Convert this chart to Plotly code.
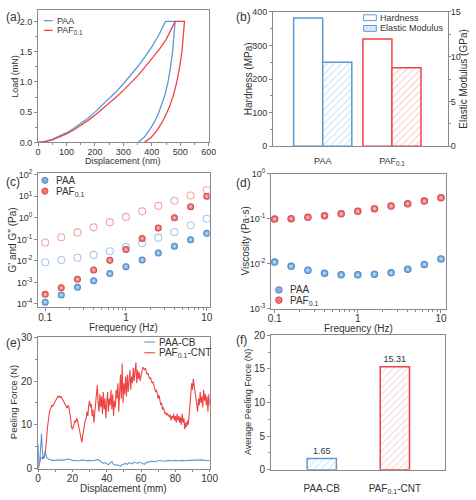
import plotly.graph_objects as go

# ---------------- data ----------------
# (a) nanoindentation load-displacement
paa_disp = [0, 25, 50, 75, 100, 125, 150, 175, 200, 225, 250, 275, 300, 325, 350, 375, 400, 425, 448,
            482, 478, 473, 466, 457, 446, 434, 422, 408, 393, 374, 351]
paa_load = [0, 0.015, 0.05, 0.10, 0.16, 0.23, 0.31, 0.40, 0.50, 0.61, 0.72, 0.84, 0.97, 1.11, 1.25, 1.41, 1.58, 1.78, 2.0,
            2.0, 1.75, 1.5, 1.25, 1.0, 0.78, 0.60, 0.46, 0.33, 0.21, 0.09, 0]
paf_disp = [0, 25, 50, 75, 100, 125, 150, 175, 200, 225, 250, 275, 300, 325, 350, 375, 400, 425, 450, 475, 482,
            515, 511, 506, 498, 488, 476, 463, 450, 436, 420, 399, 374]
paf_load = [0, 0.012, 0.04, 0.085, 0.14, 0.205, 0.28, 0.36, 0.45, 0.545, 0.645, 0.75, 0.86, 0.98, 1.10, 1.24, 1.38, 1.53, 1.70, 1.92, 2.0,
            2.0, 1.75, 1.5, 1.25, 1.0, 0.78, 0.60, 0.46, 0.33, 0.21, 0.09, 0]

# (b) hardness / elastic modulus
b_categories = ["PAA", "PAF<sub>0.1</sub>"]
hardness_mpa = [382, 319]
modulus_gpa = [9.37, 8.76]

# (c)/(d) frequency sweep
freq_hz = [0.1, 0.158, 0.251, 0.398, 0.631, 1.0, 1.585, 2.512, 3.981, 6.31, 10.0]
paa_g_storage = [1.2e-4, 2.6e-4, 5.9e-4, 1.2e-3, 2.6e-3, 5.4e-3, 1.1e-2, 2.3e-2, 4.8e-2, 9.6e-2, 0.19]
paf_g_storage = [2.8e-4, 5.6e-4, 1.4e-3, 3.8e-3, 1.07e-2, 3.4e-2, 0.11, 0.34, 1.0, 3.3, 10.0]
paa_g_loss = [8.7e-3, 1.1e-2, 1.4e-2, 1.9e-2, 2.8e-2, 4.5e-2, 6.7e-2, 0.12, 0.22, 0.45, 0.9]
paf_g_loss = [0.072, 0.126, 0.21, 0.36, 0.63, 1.1, 2.0, 3.6, 6.2, 10.8, 19.0]
paa_viscosity = [0.0109, 0.0088, 0.0072, 0.0062, 0.0057, 0.0057, 0.0059, 0.0063, 0.0076, 0.0097, 0.0128]
paf_viscosity = [0.098, 0.100, 0.107, 0.116, 0.128, 0.146, 0.167, 0.19, 0.215, 0.245, 0.29]

# (e) peeling curves
paa_cb_disp = [0, 0.5, 1, 1.5, 2, 2.5, 3, 3.5, 4, 4.5, 5, 6, 7, 8, 10, 12, 14, 16, 18, 20, 22, 24, 26, 28, 30,
               32, 34, 35, 36, 37, 38, 39, 40, 41, 42, 43, 44, 45, 46, 47, 48, 49, 50, 51, 52, 53, 54, 55, 56,
               57, 58, 59, 60, 61, 62, 63, 64, 66, 68, 70, 72, 74, 76, 78, 80, 82, 84, 86, 88, 90, 92, 94, 96, 98, 100]
paa_cb_force = [5.5, 0.5, 1.5, 5.0, 8.0, 4.0, 2.2, 2.5, 4.0, 3.5, 2.6, 2.2, 2.0, 1.9, 1.9, 2.0, 1.9, 2.0, 2.2, 1.9, 1.9, 1.8, 2.0, 1.8, 1.9,
                1.8, 2.0, 2.1, 1.8, 1.5, 1.2, 1.4, 1.1, 0.9, 1.3, 1.6, 1.0, 0.8, 0.9, 0.7, 0.6, 1.0, 1.0, 1.2, 1.0, 1.4, 1.3, 1.1, 1.5,
                1.4, 1.2, 1.5, 1.4, 1.2, 1.0, 1.4, 1.5, 1.7, 1.6, 1.8, 1.8, 1.7, 1.9, 1.8, 1.9, 1.8, 1.9, 1.8, 1.9, 1.9, 2.0, 1.9, 2.0, 1.8, 1.9]
paf_cnt_step_mm = 0.5
paf_cnt_force = [
    0, 1, 2, 2.5, 2.5, 2.3, 2.8, 2.5, 3, 4.5,
    7, 9.5, 11.5, 12.5, 13.5, 13.8, 14.5, 14.2, 14.6, 15,
    15.3, 15.8, 16.2, 16.5, 16.2, 16.6, 16.3, 16.4, 16, 15.6,
    15.3, 15, 14.6, 14.2, 13.8, 14.5, 14, 12.5, 11.5, 9.5,
    9, 9.5, 10.5, 11, 10.5, 11.5, 11, 10, 9, 8,
    6.5, 6, 7.5, 9.5, 10, 11, 11.5, 13, 12, 14.5,
    15.5, 14, 14.8, 12, 13.5, 10.5, 13, 15.5, 16.5, 19,
    15, 13, 17, 14, 16.5, 12.5, 17.5, 13.5, 16, 11.5,
    15, 17.5, 13, 16, 14.5, 18, 13.5, 17, 12, 15.5,
    14, 18, 16, 19.5, 13, 17.5, 21.5, 16, 24, 15,
    19.5, 17, 21, 16.5, 21.5, 17.5, 20, 22.5, 18, 21,
    19.5, 23, 20, 22, 24.2, 19.5, 22.5, 20.5, 22, 20,
    21.5, 22.5, 23.2, 22.8, 22.5, 23, 22, 21.5, 21.8, 21,
    20.5, 20.8, 20, 19.5, 19.8, 19, 18.5, 17.5, 18, 17,
    16, 16.8, 15.5, 14.5, 15, 13.5, 14, 13, 12.5, 12.8,
    12.2, 12.5, 12, 11.8, 12.3, 11, 12, 11.5, 12.5, 11,
    12, 10.5, 12.5, 11, 12, 10.5, 11.8, 10, 12.5, 10.5,
    11.5, 9, 10.5, 9.5, 11, 10, 12, 14, 17, 19.5,
    18, 20.5, 19, 17.5, 16, 15, 13, 16, 14.5, 17.5,
    15, 16.5, 14, 18, 15.5, 17, 14.5, 16.5, 13, 17,
    14.5]
paf_cnt_disp = [round(i * paf_cnt_step_mm, 1) for i in range(len(paf_cnt_force))]

# (f) average peeling force
f_categories = ["PAA-CB", "PAF<sub>0.1</sub>-CNT"]
avg_peel_force = [1.65, 15.31]

# ---------------- style ----------------
W, H = 476, 500
FONT = "Liberation Sans, Arial, sans-serif"
TXT = "#333333"
GRAY = "#8a8a8a"
BLUE = "#5b9bd5"
RED = "#ee4444"
LBLUE = "#a9c9ea"
LRED = "#f4a5a5"
SPH_BLUE_EDGE, SPH_BLUE_CEN = "#3c7fc6", "#d6e8fa"
SPH_RED_EDGE, SPH_RED_CEN = "#d93636", "#fbd0d0"


def px(x):
    return x / W


def py(y):
    return 1 - y / H


fig = go.Figure()

# (a)
fig.add_trace(go.Scatter(x=paa_disp, y=paa_load, mode="lines", line=dict(color=BLUE, width=1.3),
                         xaxis="x", yaxis="y", showlegend=False))
fig.add_trace(go.Scatter(x=paf_disp, y=paf_load, mode="lines", line=dict(color=RED, width=1.3),
                         xaxis="x", yaxis="y", showlegend=False))

# (b)
b_edge = [BLUE, RED]
b_fg = [LBLUE, LRED]
for i in range(len(b_categories)):
    fig.add_trace(go.Bar(x=[i], y=[hardness_mpa[i]], width=0.42, offset=-0.42,
                         marker=dict(color="white", line=dict(color=b_edge[i], width=1.5)),
                         xaxis="x2", yaxis="y2", showlegend=False))
    fig.add_trace(go.Bar(x=[i], y=[modulus_gpa[i]], width=0.42, offset=0,
                         marker=dict(color="white", line=dict(color=b_edge[i], width=1.5),
                                     pattern=dict(shape="/", fgcolor=b_fg[i], bgcolor="white", size=5, solidity=0.25)),
                         xaxis="x2", yaxis="y3", showlegend=False))

# (c)
fig.add_trace(go.Scatter(x=freq_hz, y=paa_g_loss, mode="markers",
                         marker=dict(symbol="circle-open", size=7, color=LBLUE, line=dict(width=1.1)),
                         xaxis="x3", yaxis="y4", showlegend=False))
fig.add_trace(go.Scatter(x=freq_hz, y=paf_g_loss, mode="markers",
                         marker=dict(symbol="circle-open", size=7, color=LRED, line=dict(width=1.1)),
                         xaxis="x3", yaxis="y4", showlegend=False))
fig.add_trace(go.Scatter(x=freq_hz, y=paa_g_storage, mode="markers",
                         marker=dict(size=7, color=SPH_BLUE_EDGE, line=dict(width=0),
                                     gradient=dict(type="radial", color=SPH_BLUE_CEN)),
                         xaxis="x3", yaxis="y4", showlegend=False))
fig.add_trace(go.Scatter(x=freq_hz, y=paf_g_storage, mode="markers",
                         marker=dict(size=7, color=SPH_RED_EDGE, line=dict(width=0),
                                     gradient=dict(type="radial", color=SPH_RED_CEN)),
                         xaxis="x3", yaxis="y4", showlegend=False))

# (d)
fig.add_trace(go.Scatter(x=freq_hz, y=paa_viscosity, mode="markers",
                         marker=dict(size=7.5, color=SPH_BLUE_EDGE, line=dict(width=0),
                                     gradient=dict(type="radial", color=SPH_BLUE_CEN)),
                         xaxis="x4", yaxis="y5", showlegend=False))
fig.add_trace(go.Scatter(x=freq_hz, y=paf_viscosity, mode="markers",
                         marker=dict(size=7.5, color=SPH_RED_EDGE, line=dict(width=0),
                                     gradient=dict(type="radial", color=SPH_RED_CEN)),
                         xaxis="x4", yaxis="y5", showlegend=False))

# (e)
fig.add_trace(go.Scatter(x=paf_cnt_disp, y=paf_cnt_force, mode="lines", line=dict(color=RED, width=1.1),
                         xaxis="x5", yaxis="y6", showlegend=False))
fig.add_trace(go.Scatter(x=paa_cb_disp, y=paa_cb_force, mode="lines", line=dict(color=BLUE, width=1.1),
                         xaxis="x5", yaxis="y6", showlegend=False))

# (f)
for i in range(len(f_categories)):
    fig.add_trace(go.Bar(x=[i], y=[avg_peel_force[i]], width=0.4,
                         marker=dict(color="white", line=dict(color=b_edge[i], width=1.5),
                                     pattern=dict(shape="/", fgcolor=b_fg[i], bgcolor="white", size=5, solidity=0.2)),
                         text=[f"{avg_peel_force[i]:.2f}"], textposition="outside",
                         textfont=dict(size=9, color=TXT), cliponaxis=False,
                         xaxis="x6", yaxis="y7", showlegend=False))


def axis(domain, size=9, **kw):
    d = dict(domain=domain, showline=True, linecolor=GRAY, linewidth=1, mirror=True,
             ticks="outside", ticklen=3, tickwidth=1, tickcolor=GRAY, showgrid=False,
             zeroline=False, tickfont=dict(size=size, color=TXT, family=FONT))
    d.update(kw)
    return d


def sup(n):
    return "10<sup>" + (str(n) if n >= 0 else "-" + str(-n)) + "</sup>"


log_minor = dict(ticks="outside", ticklen=2, tickcolor=GRAY,
                 tickmode="array", tickvals=[0.2, 0.3, 0.4, 0.5, 0.6, 0.7, 0.8, 0.9, 2, 3, 4, 5, 6, 7, 8, 9])

fig.update_layout(
    width=W, height=H, margin=dict(l=0, r=0, t=0, b=0),
    paper_bgcolor="white", plot_bgcolor="white", barmode="overlay",
    font=dict(family=FONT, color=TXT, size=9),
    # (a)
    xaxis=axis([px(36), px(211)], anchor="y", range=[0, 600], dtick=100, ticklabelstandoff=-2,
               minor=dict(ticks="outside", ticklen=2, dtick=50, tickcolor=GRAY)),
    yaxis=axis([py(139), py(3)], anchor="x", range=[0, 2.19], dtick=0.5, tickformat=".1f",
               minor=dict(ticks="outside", ticklen=2, dtick=0.25, tickcolor=GRAY)),
    # (b)
    xaxis2=axis([px(277), px(456)], anchor="y2", range=[-0.718, 1.803], tickmode="array",
                tickvals=[0, 1], ticktext=b_categories, ticks="", ticklabelstandoff=6),
    yaxis2=axis([py(143), py(5)], anchor="x2", range=[0, 400], dtick=100,
                minor=dict(ticks="outside", ticklen=2, dtick=50, tickcolor=GRAY)),
    yaxis3=axis([py(143), py(5)], anchor="x2", overlaying="y2", side="right", range=[0, 15], dtick=5,
                mirror=False, ticklen=2.5, ticklabelstandoff=-2,
                minor=dict(ticks="outside", ticklen=2, dtick=2.5, tickcolor=GRAY)),
    # (c)
    xaxis3=axis([px(36), px(212)], size=10, anchor="y4", type="log", range=[-1.088, 1.036],
                tickmode="array", tickvals=[0.1, 1, 10], ticktext=["0.1", "1", "10"], minor=log_minor,
                ticklabelstandoff=-2),
    yaxis4=axis([py(308), py(170)], size=9, anchor="x3", type="log", range=[-4.14, 2.1],
                tickmode="array", tickvals=[1e-4, 1e-3, 1e-2, 1e-1, 1, 10, 100],
                ticktext=[sup(n) for n in [-4, -3, -2, -1, 0, 1, 2]]),
    # (d)
    xaxis4=axis([px(275), px(454)], size=10, anchor="y5", type="log", range=[-1.043, 1.055],
                tickmode="array", tickvals=[0.1, 1, 10], ticktext=["0.1", "1", "10"], minor=log_minor,
                ticklabelstandoff=-3),
    yaxis5=axis([py(310), py(171)], size=9, anchor="x4", type="log", range=[-3, 0],
                tickmode="array", tickvals=[1e-3, 1e-2, 1e-1, 1],
                ticktext=[sup(n) for n in [-3, -2, -1, 0]]),
    # (e)
    xaxis5=axis([px(36), px(212)], size=10, anchor="y6", range=[0, 100], dtick=20, ticklen=2.5,
                ticklabelstandoff=-2,
                minor=dict(ticks="outside", ticklen=2, dtick=10, tickcolor=GRAY)),
    yaxis6=axis([py(474), py(339)], size=10, anchor="x5", range=[0, 30], dtick=10,
                minor=dict(ticks="outside", ticklen=2, dtick=5, tickcolor=GRAY)),
    # (f)
    xaxis6=axis([px(275), px(453)], size=10, anchor="y7", range=[-0.693, 1.68], tickmode="array",
                tickvals=[0, 1], ticktext=f_categories, ticks="", ticklabelstandoff=9),
    yaxis7=axis([py(475), py(337)], size=10, anchor="x6", range=[0, 20], dtick=5,
                minor=dict(ticks="outside", ticklen=2, dtick=2.5, tickcolor=GRAY)),
)

ann = []


def text(x, y, s, size=9, angle=0, xanchor="center"):
    ann.append(dict(x=px(x), y=py(y), xref="paper", yref="paper", text=s, showarrow=False,
                    textangle=angle, xanchor=xanchor, yanchor="middle",
                    font=dict(size=size, color=TXT, family=FONT)))


# panel labels
for lab, x, y in [("(a)", 1, 10), ("(b)", 237, 10), ("(c)", 1, 180), ("(d)", 237, 181),
                  ("(e)", 1, 345), ("(f)", 237, 342)]:
    text(x, y, lab, size=12, xanchor="left")

# axis titles
text(123.5, 158.5, "Displacement (nm)", 9)
text(12, 71, "Load (mN)", 9, -90)
text(251.5, 74, "Hardness (MPa)", 10, -90)
text(471.5, 74, "Elastic Modulus (GPa)", 10, -90)
text(124, 329, "Frequency (Hz)", 10)
text(10, 239, "G' and G'' (Pa)", 10, -90)
text(364.5, 330.5, "Frequency (Hz)", 10)
text(249, 240, "Viscosity (Pa·s)", 10, -90)
text(124, 494, "Displacement (mm)", 10)
text(11, 406, "Peeling Force (N)", 9.5, -90)
text(252, 406, "Average Peeling Force (N)", 9, -90)

shapes = []


def hline(x0, x1, y, color, width=1.3):
    shapes.append(dict(type="line", xref="paper", yref="paper", x0=px(x0), x1=px(x1), y0=py(y), y1=py(y),
                       line=dict(color=color, width=width)))


def dot(cx, cy, r, color, edge):
    shapes.append(dict(type="circle", xref="paper", yref="paper", x0=px(cx - r), x1=px(cx + r),
                       y0=py(cy + r), y1=py(cy - r), fillcolor=color, line=dict(color=edge, width=0.8)))


# legend (a)
hline(42, 51, 14, BLUE)
text(53, 14, "PAA", 9, xanchor="left")
hline(42, 51, 24, RED)
text(53, 24.5, "PAF<sub>0.1</sub>", 9, xanchor="left")

# legend (b)
shapes.append(dict(type="rect", xref="paper", yref="paper", x0=px(370), x1=px(383), y0=py(14), y1=py(8),
                   fillcolor="white", line=dict(color=BLUE, width=1)))
shapes.append(dict(type="rect", xref="paper", yref="paper", x0=px(370), x1=px(383), y0=py(25), y1=py(19),
                   fillcolor="#e3eef9", line=dict(color=BLUE, width=1)))
for x0 in [371, 375, 379]:
    shapes.append(dict(type="line", xref="paper", yref="paper", x0=px(x0), x1=px(x0 + 4), y0=py(24.5), y1=py(19.5),
                       line=dict(color=LBLUE, width=0.8)))
text(385, 11, "Hardness", 9, xanchor="left")
text(385, 22, "Elastic Modulus", 9, xanchor="left")

# legend (c)
dot(43, 178, 3.2, "#7fb0e2", SPH_BLUE_EDGE)
text(52, 178, "PAA", 10, xanchor="left")
dot(43, 189, 3.2, "#ec7a7a", SPH_RED_EDGE)
text(52, 189.5, "PAF<sub>0.1</sub>", 10, xanchor="left")

# legend (d)
dot(283, 290.5, 3.4, "#7fb0e2", SPH_BLUE_EDGE)
text(292, 290.5, "PAA", 10, xanchor="left")
dot(283, 301, 3.4, "#ec7a7a", SPH_RED_EDGE)
text(292, 301.5, "PAF<sub>0.1</sub>", 10, xanchor="left")

# legend (e)
hline(145, 156, 344, BLUE, 1.1)
text(158, 344, "PAA-CB", 10, xanchor="left")
hline(145, 156, 355, RED, 1.1)
text(158, 355.5, "PAF<sub>0.1</sub>-CNT", 10, xanchor="left")

fig.update_layout(annotations=ann, shapes=shapes)

fig.write_html("out.html", config={"displayModeBar": False},
               post_script="document.body.style.margin='0px';document.body.style.padding='0px';")
